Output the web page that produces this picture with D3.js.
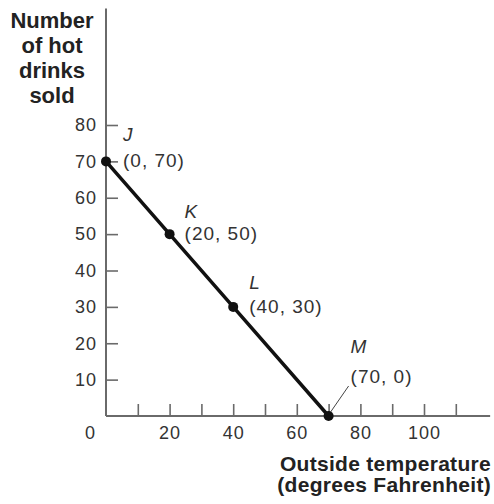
<!DOCTYPE html>
<html><head><meta charset="utf-8">
<script src="https://cdn.jsdelivr.net/npm/d3@7"></script>
<style>
html,body{margin:0;padding:0;background:#fff;}
svg{display:block;}
text{font-family:"Liberation Sans",Arial,sans-serif;}
</style></head>
<body>
<script>
const xTickValues = [10,20,30,40,50,60,70,80,90,100,110];
const xTickLabels = [20,40,60,80,100];
const yTickValues = [10,20,30,40,50,60,70,80];
const pointNames = ["J","K","L","M"];
const temps = [0,20,40,70];
const drinks = [70,50,30,0];
const yTitleLines = ["Number","of hot","drinks","sold"];
const xTitleLines = ["Outside temperature","(degrees Fahrenheit)"];

const W=494,H=504;
const svg=d3.select("body").append("svg").attr("width",W).attr("height",H);
const x=d3.scaleLinear().domain([0,120]).range([106,487.6]);
const y=d3.scaleLinear().domain([0,80]).range([416,125]);
const axisCol="#6a6a6a", textCol="#333";

svg.append("line").attr("x1",x(0)).attr("x2",x(120.8)).attr("y1",y(0)).attr("y2",y(0))
  .attr("stroke",axisCol).attr("stroke-width",2);
svg.append("line").attr("x1",x(0)).attr("x2",x(0)).attr("y1",y(0)).attr("y2",y(112))
  .attr("stroke",axisCol).attr("stroke-width",2);

const xa=svg.append("g").attr("transform",`translate(0,${y(0)})`)
  .call(d3.axisBottom(x).tickValues(xTickValues).tickSize(-12).tickSizeOuter(0).tickPadding(10)
    .tickFormat(d=>xTickLabels.includes(d)?d:""));
const ya=svg.append("g").attr("transform",`translate(${x(0)},0)`)
  .call(d3.axisLeft(y).tickValues(yTickValues).tickSize(-12).tickSizeOuter(0).tickPadding(9));
[xa,ya].forEach(g=>{
  g.select(".domain").remove();
  g.selectAll(".tick line").attr("stroke",axisCol).attr("stroke-width",1.6);
  g.selectAll(".tick text").attr("fill",textCol).style("font-size","18px").style("letter-spacing","1px")
    .style("font-family","Liberation Sans, Arial, sans-serif");
});
svg.append("text").attr("x",x(0)-16).attr("y",y(0)+10).attr("dy","0.71em").attr("text-anchor","middle")
  .attr("fill",textCol).style("font-size","18px").text("0");

svg.append("g").selectAll("text").data(yTitleLines).join("text")
  .attr("x",52).attr("y",(d,i)=>28+i*25).attr("text-anchor","middle")
  .attr("fill","#222").style("font-size","22px").style("font-weight","bold").text(d=>d);
svg.append("g").selectAll("text").data(xTitleLines).join("text")
  .attr("x",491).attr("y",(d,i)=>471+i*21).attr("text-anchor","end")
  .attr("fill","#222").style("font-size","21px").style("font-weight","bold").style("letter-spacing","0.3px").text(d=>d);

const pts=temps.map((t,i)=>({name:pointNames[i],t,d:drinks[i]}));
svg.append("path").datum(pts)
  .attr("d",d3.line().x(d=>x(d.t)).y(d=>y(d.d)))
  .attr("fill","none").attr("stroke","#111").attr("stroke-width",3.5);
svg.append("g").selectAll("circle").data(pts).join("circle")
  .attr("cx",d=>x(d.t)).attr("cy",d=>y(d.d)).attr("r",5).attr("fill","#111");

const off={J:[17,-20,6],K:[15,-16,6],L:[16,-18,6],M:[22,-63,-33]};
const lab=svg.append("g").selectAll("g").data(pts).join("g")
  .attr("transform",d=>`translate(${x(d.t)+off[d.name][0]},${y(d.d)})`);
lab.append("text").attr("y",d=>off[d.name][1]).attr("fill",textCol)
  .style("font-size","19px").style("font-style","italic").text(d=>d.name);
lab.append("text").attr("y",d=>off[d.name][2]).attr("fill",textCol)
  .style("font-size","19px").style("letter-spacing","1px").text(d=>`(${d.t}, ${d.d})`);
const m=pts[3];
svg.append("line").attr("x1",x(m.t)+2).attr("y1",y(m.d)-4).attr("x2",x(m.t)+20).attr("y2",y(m.d)-30)
  .attr("stroke","#444").attr("stroke-width",1);
</script>
</body></html>
